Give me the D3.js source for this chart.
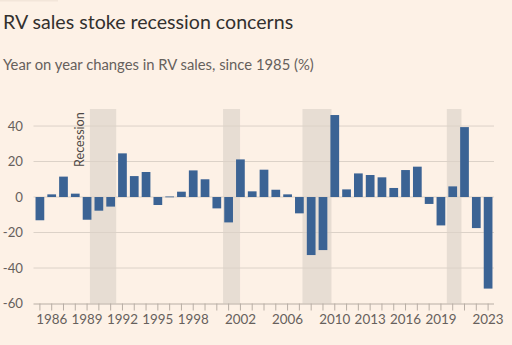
<!DOCTYPE html>
<html>
<head>
<meta charset="utf-8">
<script src="https://cdn.jsdelivr.net/npm/d3@7"></script>
<style>
  body { margin: 0; background: #fdf1e6; }
  svg { display: block; }
  text { font-family: Lato, "Open Sans", sans-serif; }
</style>
</head>
<body>
<div id="chart"></div>
<script>
// Data: yearly change in RV sales (%)
var years = d3.range(1985, 2024);
var values = [-13.1, 1.5, 11.5, 1.9, -12.8, -7.7, -5.4, 24.6, 11.8, 14.1,
              -4.5, 0.3, 3.0, 15.0, 10.0, -6.4, -14.3, 21.2, 3.2, 15.4,
              4.1, 1.5, -9.2, -32.7, -29.9, 46.2, 4.3, 13.3, 12.4, 11.1,
              5.1, 15.2, 17.1, -3.9, -16.0, 6.0, 39.4, -17.5, -51.6];
var recessionStart = [1989.24, 2000.53, 2007.26, 2019.5];
var recessionEnd = [1991.47, 2001.97, 2009.72, 2020.74];
var yTicks = [40, 20, 0, -20, -40, -60];
var xLabels = [1986, 1989, 1992, 1995, 1998, 2002, 2006, 2010, 2013, 2016, 2019, 2023];

var width = 512, height = 345;
var margin = { top: 109, right: 18, bottom: 42, left: 34 };

var svg = d3.select("#chart").append("svg").attr("width", width).attr("height", height);

svg.append("rect").attr("width", width).attr("height", height).attr("fill", "#fdf1e6");
svg.append("rect").attr("x", 0).attr("y", 0).attr("width", 58).attr("height", 1.5).attr("fill", "#f3e6da");

// Titles
svg.append("text").attr("x", 3).attr("y", 29)
  .attr("font-size", 19.6).attr("fill", "#33302e")
  .text("RV sales stoke recession concerns");
svg.append("text").attr("x", 3).attr("y", 70)
  .attr("font-size", 14.8).attr("fill", "#66605c")
  .text("Year on year changes in RV sales, since 1985 (%)");

// Scales
var xScale = d3.scaleBand().domain(years)
  .range([margin.left, width - margin.right])
  .paddingInner(0.26).paddingOuter(0.13);
var yScale = d3.scaleLinear().domain([-60, 46.5])
  .range([303.5, 114.5]);

// year -> continuous position (centre of band)
var yearPos = d3.scaleLinear()
  .domain([1985, 2023])
  .range([xScale(1985) + xScale.bandwidth() / 2, xScale(2023) + xScale.bandwidth() / 2]);

// Recession shading
svg.selectAll(".recession").data(recessionStart).enter().append("rect")
  .attr("x", function(d) { return yearPos(d); })
  .attr("width", function(d, i) { return yearPos(recessionEnd[i]) - yearPos(d); })
  .attr("y", margin.top)
  .attr("height", yScale(-60) - margin.top)
  .attr("fill", "#e7ddd3");

// Gridlines
var gx0 = margin.left - 0.5, gx1 = width - margin.right;
svg.selectAll(".grid").data(yTicks.filter(function(d) { return d !== -60; })).enter().append("line")
  .attr("x1", gx0).attr("x2", gx1)
  .attr("y1", function(d) { return yScale(d); })
  .attr("y2", function(d) { return yScale(d); })
  .attr("stroke", "#dcd2c8").attr("stroke-width", 1);

// Y labels
svg.selectAll(".ylab").data(yTicks).enter().append("text")
  .attr("x", 23).attr("y", function(d) { return yScale(d) + 4.5; })
  .attr("text-anchor", "end").attr("font-size", 13.2).attr("fill", "#66605c")
  .text(function(d) { return d; });

// Bars
svg.selectAll(".bar").data(values).enter().append("rect")
  .attr("x", function(d, i) { return xScale(years[i]); })
  .attr("width", xScale.bandwidth())
  .attr("y", function(d) { return yScale(Math.max(0, d)); })
  .attr("height", function(d) { return Math.max(0.8, Math.abs(yScale(d) - yScale(0))); })
  .attr("fill", "#3b6394");

// X axis
var xAxis = svg.append("g")
  .attr("transform", "translate(0," + yScale(-60) + ")")
  .call(d3.axisBottom(xScale).tickSize(7).tickSizeOuter(0)
    .tickFormat(function(d) { return xLabels.indexOf(d) >= 0 ? d : ""; }));
xAxis.select(".domain").attr("d", "M" + gx0 + ",0.5H" + gx1).attr("stroke", "#b8aea5");
xAxis.selectAll(".tick line").attr("stroke", "#b8aea5");
xAxis.selectAll(".tick text").attr("font-size", 13.4).attr("fill", "#66605c")
  .attr("font-family", "Lato, sans-serif").attr("dy", "0.8em");

// Recession label
svg.append("text")
  .attr("transform", "translate(83.5,167) rotate(-90)")
  .attr("font-size", 12.6).attr("fill", "#4d4845")
  .text("Recession");
</script>
</body>
</html>
